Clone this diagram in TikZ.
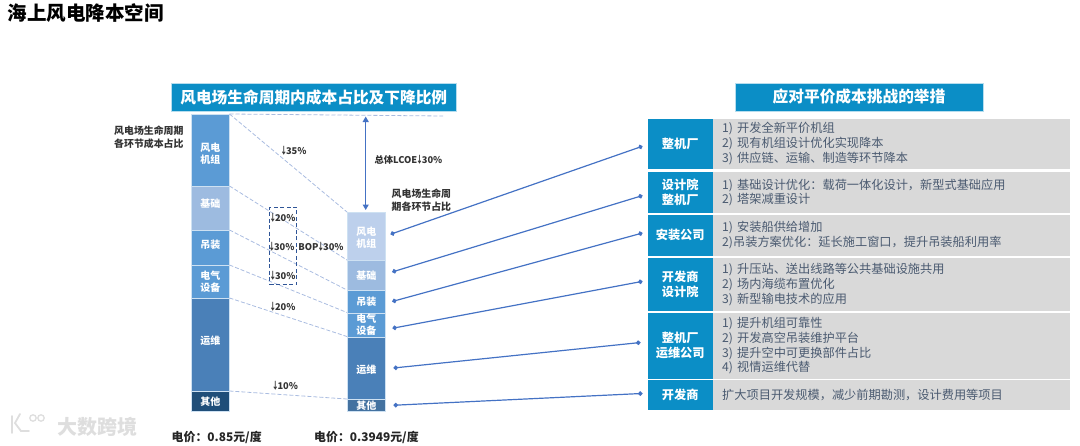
\documentclass[tikz,border=0pt]{standalone}
\usepackage{fontspec}
\setmainfont{Noto Sans CJK SC}
\usetikzlibrary{arrows.meta}
\definecolor{hdr}{HTML}{0B8EC6}
\definecolor{gry}{HTML}{D9D9D9}
\definecolor{txt}{HTML}{4A5A70}
\definecolor{lnk}{HTML}{4472C4}
\definecolor{dsh}{HTML}{A9BCE0}
\definecolor{navy}{HTML}{2F5597}
\definecolor{mid}{HTML}{5B9BD5}
\definecolor{pale}{HTML}{9DBBE0}
\definecolor{paler}{HTML}{BDD0EC}
\definecolor{deep}{HTML}{4A80B8}
\definecolor{dark}{HTML}{1F4E79}
\definecolor{slate}{HTML}{4472A0}
\definecolor{wmk}{HTML}{DEDEDE}
\newcommand{\dnarrow}{\makebox[4.6pt]{\scalebox{.75}[1.05]{↓}}}
\newcommand{\liftby}[2]{\raisebox{#1}[8pt][2pt]{#2}}
\tikzset{
 x=1pt,y=-1pt,
 seg/.style={minimum width=38pt,inner sep=0pt,draw=white!70!mid,line width=.5pt,text=white,font=\fontsize{10}{12.3}\selectfont\bfseries,align=center,anchor=north west},
 titlebox/.style={fill=hdr,text=white,draw=white!70!hdr,line width=.5pt,font=\fontsize{15.7}{17}\selectfont\bfseries,inner sep=0pt,anchor=north west,minimum height=27.5pt},
 rolebox/.style={fill=hdr,text=white,minimum width=65pt,inner sep=0pt,anchor=north west,align=center,font=\fontsize{12.2}{15}\selectfont\bfseries},
 bodybox/.style={fill=gry,text=txt,minimum width=357pt,inner sep=0pt,anchor=north west,align=left,text width=339pt,font=\fontsize{12.2}{14.9}\selectfont},
 pct/.style={font=\fontsize{9.3}{10}\selectfont\bfseries,text=black!80,inner sep=0pt},
 note/.style={font=\fontsize{9.9}{12.7}\selectfont\bfseries,text=black!80,inner sep=0pt,align=left},
 price/.style={font=\fontsize{11.9}{13}\selectfont\bfseries,text=black!85,inner sep=0pt,anchor=west},
 guide/.style={dsh,dash pattern=on 4pt off 2pt,line width=.8pt},
 link/.style={lnk,line width=1.2pt,{Circle[length=4.5pt]}-{Circle[length=4.5pt]}},
}
\begin{document}
\begin{tikzpicture}
\useasboundingbox (0,0) rectangle (1080,445);
\node[anchor=west,inner sep=0pt,font=\fontsize{19.5}{21}\selectfont\bfseries] (head) at (7.5,13) {海上风电降本空间};
\node[titlebox,minimum width=285pt] (t1) at (171,83) {风电场生命周期内成本占比及下降比例};
\node[titlebox,minimum width=248.5pt] (t2) at (734.5,83) {应对平价成本挑战的举措};
% left bar
\node[seg,fill=mid,minimum height=72pt] (l1) at (191,114) {\liftby{-4pt}{风电}\\\liftby{-4pt}{机组}};
\node[seg,fill=pale,minimum height=44pt] (l2) at (191,186) {\liftby{4pt}{基础}};
\node[seg,fill=mid,minimum height=35pt] (l3) at (191,230) {\liftby{2pt}{吊装}};
\node[seg,fill=mid,minimum height=33pt] (l4) at (191,265) {电气\\设备};
\node[seg,fill=deep,minimum height=93pt] (l5) at (191,298) {\liftby{3pt}{运维}};
\node[seg,fill=dark,minimum height=20pt] (l6) at (191,391) {其他};
% right bar
\node[seg,fill=paler,minimum height=48pt] (r1) at (347,212) {\liftby{-2.5pt}{风电}\\\liftby{-2.5pt}{机组}};
\node[seg,fill=pale,minimum height=30pt] (r2) at (347,260) {基础};
\node[seg,fill=mid,minimum height=22.5pt] (r3) at (347,290) {吊装};
\node[seg,fill=mid,minimum height=24pt] (r4) at (347,312.5) {电气\\设备};
\node[seg,fill=deep,minimum height=62.5pt] (r5) at (347,336.5) {\liftby{-2pt}{运维}};
\node[seg,fill=slate,minimum height=12pt] (r6) at (347,399) {其他};
% guides
\coordinate (topend) at (443,116);
\draw[guide] (l1.north east) -- (topend);
\draw[guide] (l1.north east) -- (r1.north west);
\draw[guide] (l2.north east) -- (r2.north west);
\draw[guide] (l3.north east) -- (r3.north west);
\draw[guide] (l4.north east) -- (r4.north west);
\draw[guide] (l5.north east) -- (r5.north west);
\draw[guide] (l6.north east) -- (r6.north west);
% total arrow
\coordinate (ta) at (365.7,116.5);
\coordinate (tb) at (365.7,210);
\draw[lnk,line width=1.2pt,{Triangle[length=5.5pt,width=6pt]}-{Triangle[length=5.5pt,width=6pt]}] (ta) -- (tb);
% dashed frame
\node[draw=navy,dash pattern=on 4pt off 2.5pt,line width=1pt,minimum width=27pt,minimum height=77.5pt,inner sep=0pt,anchor=north west] (bop) at (269,206.7) {};
% labels
\node[note,anchor=west] (n1) at (114,137) {风电场生命周期\\各环节成本占比};
\node[note,anchor=west] (n2) at (391.5,200) {风电场生命周\\期各环节占比};
\node[pct] (p1) at (294,150.7) {\dnarrow 35\%};
\node[pct] (p2) at (283,218) {\dnarrow 20\%};
\node[pct] (p3) at (282,246.7) {\dnarrow 30\%};
\node[pct] (p4) at (283,275.7) {\dnarrow 30\%};
\node[pct] (p5) at (321,247) {BOP\dnarrow 30\%};
\node[pct] (p6) at (283,306.5) {\dnarrow 20\%};
\node[pct] (p7) at (285.5,386) {\dnarrow 10\%};
\node[pct] (p8) at (408.5,160) {总体LCOE\dnarrow 30\%};
\node[price] (c1) at (171.5,437) {电价：0.85元/度};
\node[price] (c2) at (314,437) {电价：0.3949元/度};
% rows
\node[rolebox,minimum height=50pt] (m1) at (647.5,118.5) {整机厂};
\node[bodybox,minimum height=50pt] (b1) at (713,118.5) {1) 开发全新平价机组\\2) 现有机组设计优化实现降本\\3) 供应链、运输、制造等环节降本};
\node[rolebox,minimum height=40.7pt] (m2) at (647.5,172) {设计院\\整机厂};
\node[bodybox,minimum height=40.7pt] (b2) at (713,172) {1) 基础设计优化：载荷一体化设计，新型式基础应用\\2) 塔架减重设计};
\node[rolebox,minimum height=41pt] (m3) at (647.5,214.3) {安装公司};
\node[bodybox,minimum height=41pt] (b3) at (713,214.3) {1) 安装船供给增加\\2)吊装方案优化：延长施工窗口，提升吊装船利用率};
\node[rolebox,minimum height=53.7pt] (m4) at (647.5,257.3) {开发商\\设计院};
\node[bodybox,minimum height=53.7pt] (b4) at (713,257.3) {1) 升压站、送出线路等公共基础设施共用\\2) 场内海缆布置优化\\3) 新型输电技术的应用};
\node[rolebox,minimum height=65.6pt] (m5) at (647.5,312.7) {整机厂\\运维公司};
\node[bodybox,minimum height=65.6pt] (b5) at (713,312.7) {1) 提升机组可靠性\\2) 开发高空吊装维护平台\\3) 提升空中可更换部件占比\\4) 视情运维代替};
\node[rolebox,minimum height=29.3pt] (m6) at (647.5,380) {开发商};
\node[bodybox,minimum height=29.3pt] (b6) at (713,380) {扩大项目开发规模，减少前期勘测，设计费用等项目};
% links
\draw[link] ([shift={(5,-2)}]r1.east) -- ([shift={(-5,2.5)}]m1.west);
\draw[link] ([shift={(6.7,-3.3)}]r2.east) -- ([shift={(-5,3)}]m2.west);
\draw[link] ([shift={(6.7,0)}]r3.east) -- ([shift={(-5,-2)}]m3.west);
\draw[link] ([shift={(7,3.5)}]r4.east) -- ([shift={(-5,-3)}]m4.west);
\draw[link] ([shift={(8,0)}]r5.east) -- ([shift={(-7,-3.2)}]m5.west);
\draw[link] ([shift={(8,0)}]r6.east) -- ([shift={(-5,-1.4)}]m6.west);
% watermark
\node[anchor=west,inner sep=0pt,text=wmk,font=\fontsize{20}{22}\selectfont\bfseries] (wm) at (57,426.5) {大数跨境};
\draw[wmk,line width=1.8pt,line cap=round] (12,416) -- (12,433);
\draw[wmk,line width=1.8pt,line cap=round] (20,414) -- (15,423) -- (21,431) -- (29,431);
\draw[wmk,line width=1.3pt] (33,418) circle (3.2);
\draw[wmk,line width=1.3pt] (41,418) circle (3.2);
\end{tikzpicture}
\end{document}
